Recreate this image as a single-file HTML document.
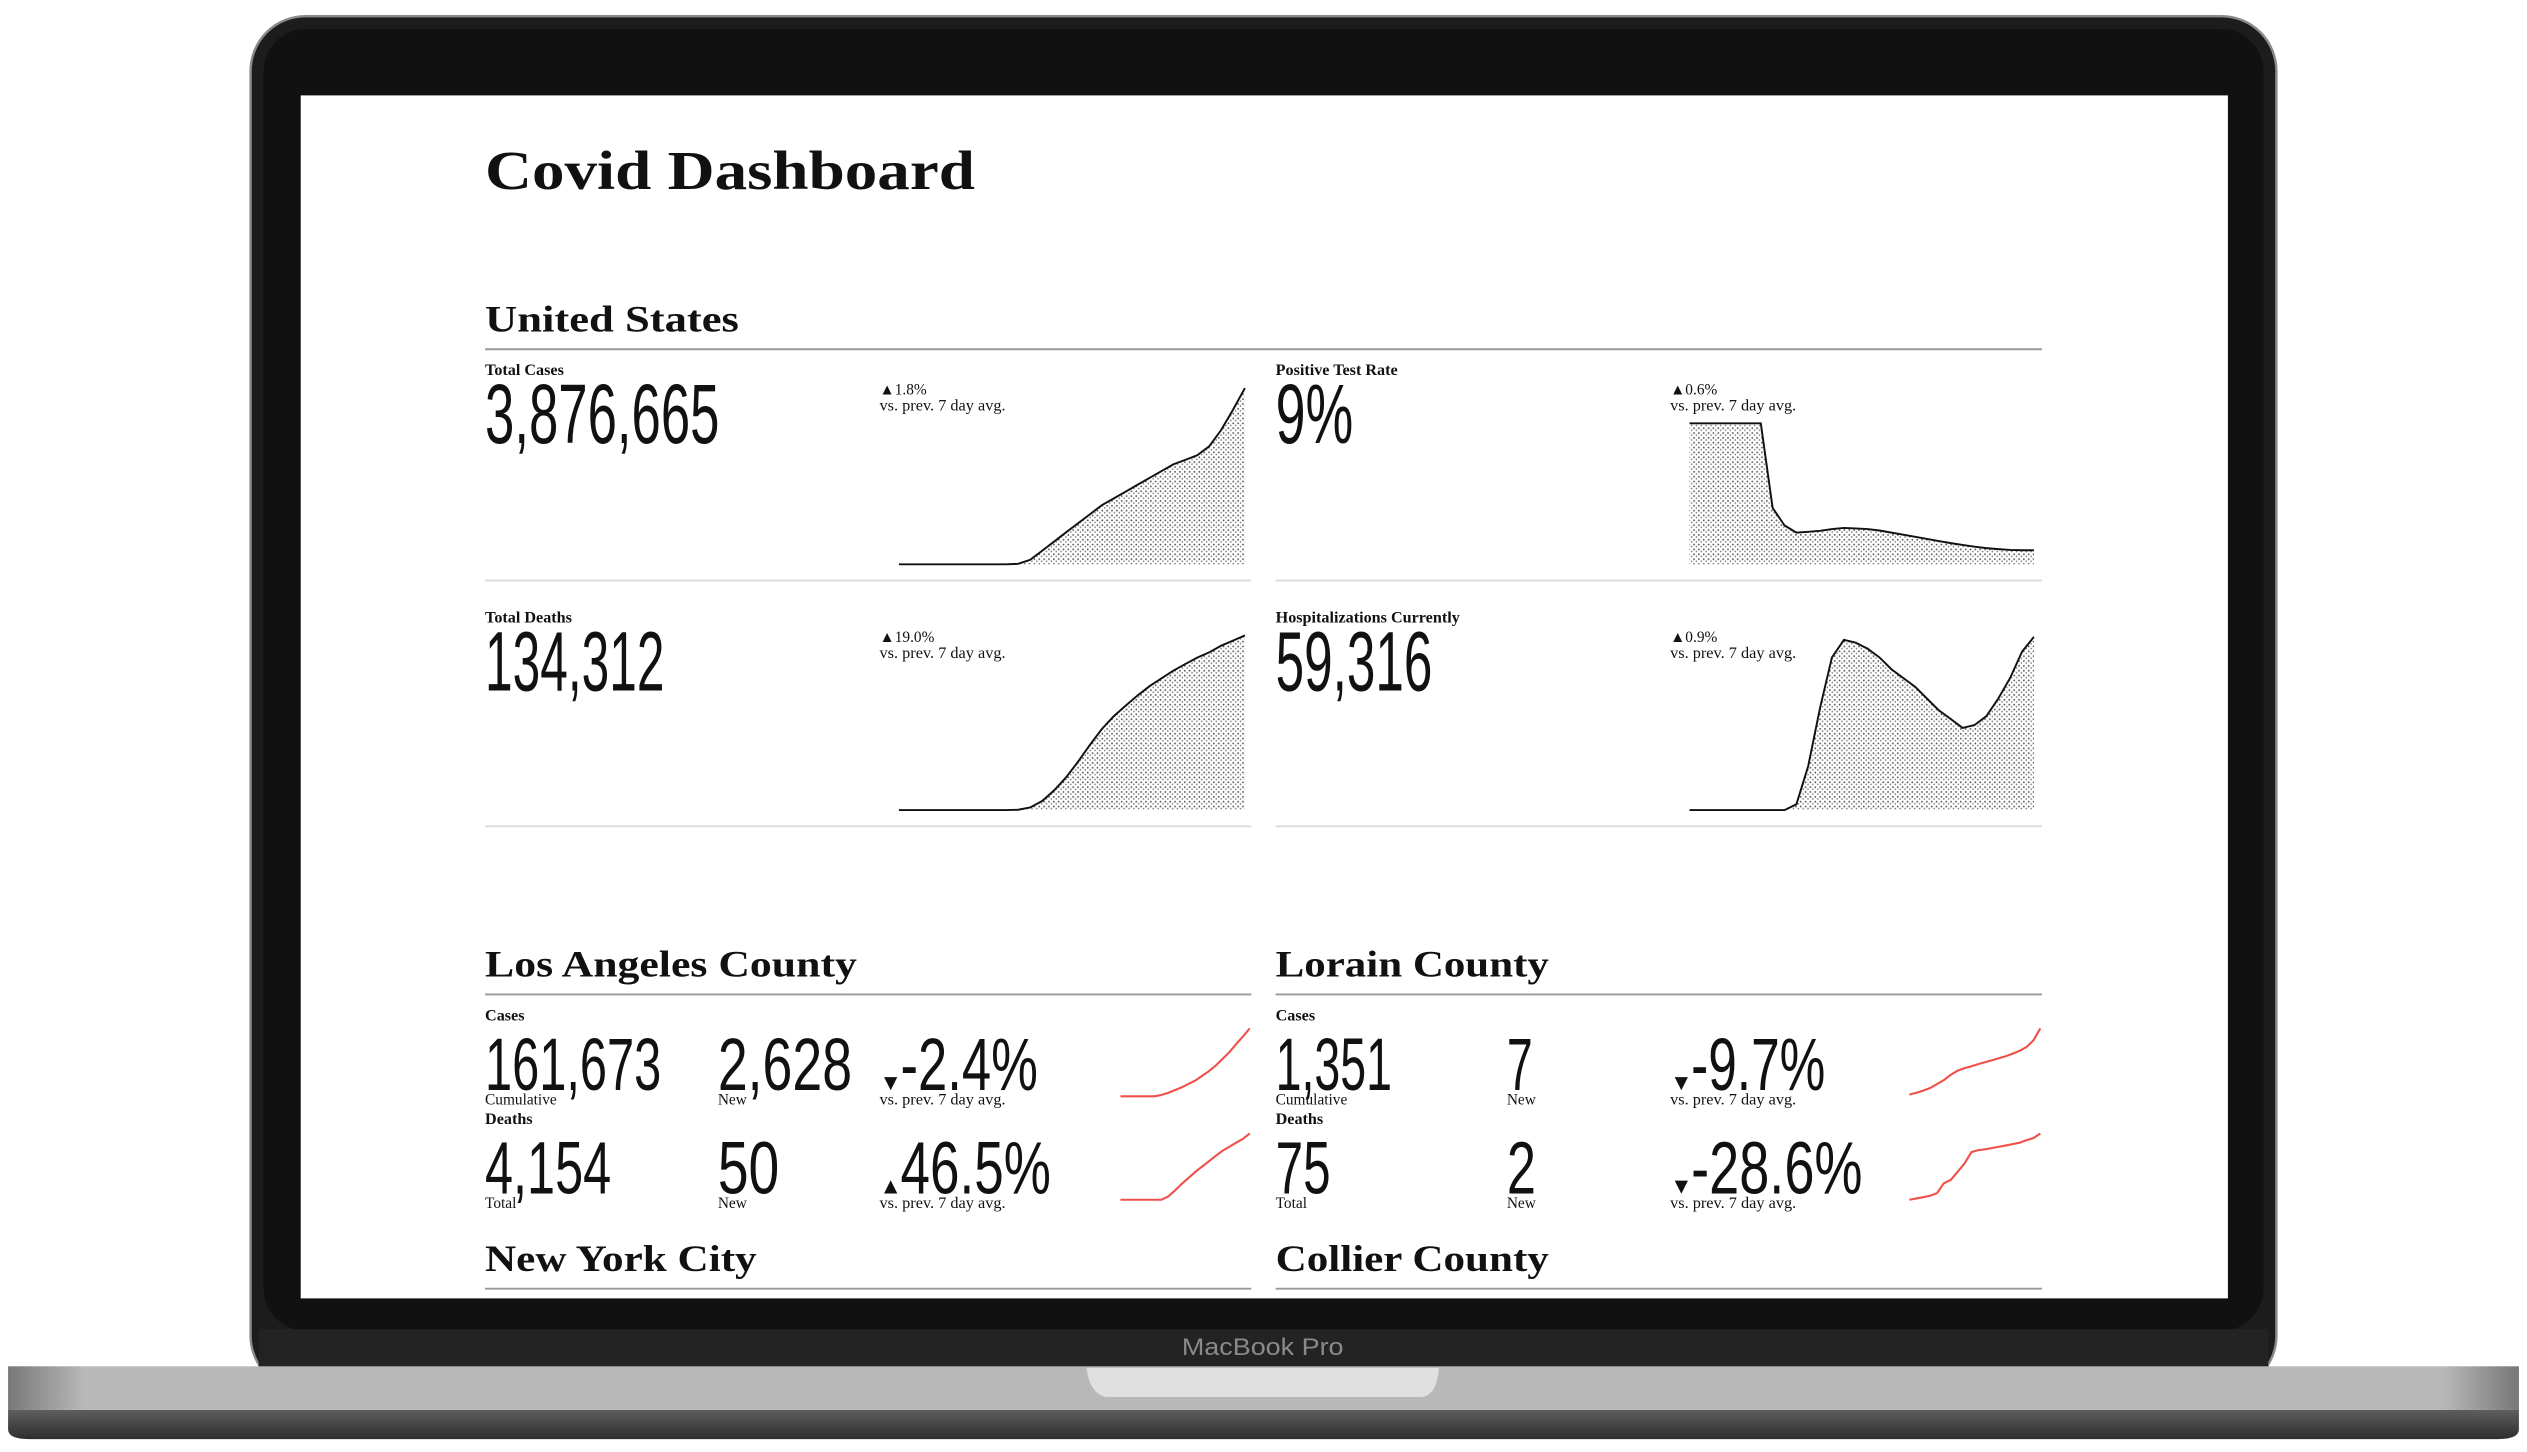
<!DOCTYPE html>
<html><head><meta charset="utf-8"><style>
html,body{margin:0;padding:0;background:#fff;width:2527px;height:1452px;overflow:hidden}
svg{display:block}
.serif{font-family:"Liberation Serif",serif}
.sans{font-family:"Liberation Sans",sans-serif}
</style></head><body>
<svg id="root" width="2527" height="1452" viewBox="0 0 1563 898" preserveAspectRatio="none" xmlns="http://www.w3.org/2000/svg">
<defs>
<pattern id="stip" width="3" height="3" patternUnits="userSpaceOnUse">
<rect width="3" height="3" fill="#fff"/>
<circle cx="0.8" cy="0.8" r="0.55" fill="#555"/>
<circle cx="2.3" cy="2.1" r="0.5" fill="#777"/>
</pattern>
<linearGradient id="baseG" x1="0" y1="0" x2="0" y2="1">
<stop offset="0" stop-color="#5e5e5e"/><stop offset="1" stop-color="#2e2e2e"/>
</linearGradient>
<linearGradient id="baseH" x1="0" y1="0" x2="1" y2="0">
<stop offset="0" stop-color="#777"/><stop offset="0.03" stop-color="#b8b8b8"/><stop offset="0.97" stop-color="#b8b8b8"/><stop offset="1" stop-color="#777"/>
</linearGradient>
</defs>
<rect x="155" y="10" width="1253" height="850" rx="34" fill="#1c1c1c" stroke="#8a8a8a" stroke-width="1.5"/>
<rect x="163" y="18" width="1237" height="805" rx="26" fill="#111"/>
<rect x="160" y="822" width="1243" height="26" fill="#232323"/>
<text x="781" y="838" text-anchor="middle" class="sans" font-size="15" fill="#8a8a8a" textLength="100" lengthAdjust="spacingAndGlyphs">MacBook Pro</text>
<rect x="5" y="845" width="1553" height="27" fill="url(#baseH)"/>
<path d="M5 872 H1558 V884 Q1558 890 1545 890 H18 Q5 890 5 884 Z" fill="url(#baseG)"/>
<path d="M672 846 H890 Q889 862 880 864 H684 Q674 862 672 846 Z" fill="#e0e0e0"/>
<rect x="186" y="59" width="1192" height="744" fill="#fff"/>

<text x="300" y="117" class="serif" font-weight="bold" font-size="34" fill="#111" textLength="303" lengthAdjust="spacingAndGlyphs">Covid Dashboard</text>

<text x="300" y="205" class="serif" font-weight="bold" font-size="23" fill="#111" textLength="157" lengthAdjust="spacingAndGlyphs">United States</text>
<line x1="300" y1="216" x2="1263" y2="216" stroke="#999" stroke-width="1.2"/>

<g id="usblock"></g>

<line x1="300" y1="359" x2="774" y2="359" stroke="#ddd" stroke-width="1.2"/>
<line x1="789" y1="359" x2="1263" y2="359" stroke="#ddd" stroke-width="1.2"/>
<line x1="300" y1="511" x2="774" y2="511" stroke="#ddd" stroke-width="1.2"/>
<line x1="789" y1="511" x2="1263" y2="511" stroke="#ddd" stroke-width="1.2"/>

<g id="counties"></g>

<text x="300" y="786" class="serif" font-weight="bold" font-size="23" fill="#111" textLength="168" lengthAdjust="spacingAndGlyphs">New York City</text>
<line x1="300" y1="797" x2="774" y2="797" stroke="#999" stroke-width="1.2"/>
<text x="789" y="786" class="serif" font-weight="bold" font-size="23" fill="#111" textLength="169" lengthAdjust="spacingAndGlyphs">Collier County</text>
<line x1="789" y1="797" x2="1263" y2="797" stroke="#999" stroke-width="1.2"/>
</svg>
<script>
const usCases = [0,0,0,0,0,0,0,0,0,0,0.01,0.1,0.3,0.5,0.7,0.9,1.1,1.3,1.45,1.6,1.75,1.9,2.05,2.2,2.3,2.4,2.6,2.95,3.4,3.88];
const usDeaths = [0,0,0,0,0,0,0,0,0,0,0.2,2,7,15,25,37,50,62,72,80,88,95,101,107,112,117,121,126,130,134];
const usTestRate = [40,40,40,40,40,40,40,16,11,9,9.2,9.5,10,10.3,10.2,10,9.6,9,8.4,7.8,7.2,6.6,6,5.5,5,4.6,4.3,4.1,4,4];
const usHosp = [0,0,0,0,0,0,0,0,0,2,15,35,52,58,57,55,52,48,45,42,38,34,31,28,29,32,38,45,54,59];
const laCases = [0,0,0,0,0,0,0.02,0.05,0.09,0.13,0.18,0.23,0.3,0.37,0.45,0.55,0.65,0.77,0.88,1];
const laDeaths = [0,0,0,0,0,0,0,0.05,0.14,0.24,0.33,0.42,0.5,0.58,0.66,0.74,0.8,0.86,0.92,1];
const lorainCases = [0,0.03,0.06,0.1,0.16,0.22,0.3,0.36,0.4,0.43,0.46,0.49,0.52,0.55,0.58,0.62,0.66,0.72,0.82,1];
const lorainDeaths = [0,0.02,0.04,0.06,0.1,0.25,0.3,0.42,0.55,0.72,0.75,0.76,0.78,0.8,0.82,0.84,0.86,0.9,0.93,1];

const NS = "http://www.w3.org/2000/svg";
function mk(tag, attrs, parent){const e=document.createElementNS(NS,tag);for(const k in attrs)e.setAttribute(k,attrs[k]);parent.appendChild(e);return e;}
function txt(parent, s, x, y, size, cls, opts){const t=mk('text',{x:x,y:y,'font-size':size,'class':cls,fill:'#111'},parent);if(opts){for(const k in opts)t.setAttribute(k,opts[k]);}t.textContent=s;return t;}
function scaleX(n,x0,x1){return i=>x0+(x1-x0)*i/(n-1);}
function scaleY(max,y0,y1){return v=>y0-(y0-y1)*v/max;}

const us = document.getElementById('usblock');
function areaChart(vals, max, x0, x1, yb, yt, name){
  const sx=scaleX(vals.length,x0,x1), sy=scaleY(max,yb,yt);
  let line='';vals.forEach((v,i)=>{line+=(i?'L':'M')+sx(i).toFixed(1)+' '+sy(v).toFixed(1)+' ';});
  const area=line+'L'+x1+' '+yb+' L'+x0+' '+yb+' Z';
  const a=mk('path',{d:area,fill:'url(#stip)'},us);
  
  
  const l=mk('path',{d:line,fill:'none',stroke:'#111','stroke-width':1.2},us);
  
  
}
function usMetric(label, value, vw, pct, x, y, name){
  const a=txt(us,label,x,y+4,10,'serif',{'font-weight':'bold'});
  
  
  const b=txt(us,value,x,y+46,52,'sans',{textLength:vw,lengthAdjust:'spacingAndGlyphs'});
  
  
  const c=txt(us,'▲'+pct,x+244,y+16,9.5,'serif');
  
  
  const d=txt(us,'vs. prev. 7 day avg.',x+244,y+26,9.5,'serif',{textLength:78,lengthAdjust:'spacingAndGlyphs'});
  
  
}
usMetric('Total Cases','3,876,665',145,'1.8%',300,228,'total-cases');
usMetric('Positive Test Rate','9%',48,'0.6%',789,228,'positive-test-rate');
usMetric('Total Deaths','134,312',111,'19.0%',300,381,'total-deaths');
usMetric('Hospitalizations Currently','59,316',97,'0.9%',789,381,'hospitalizations');
areaChart(usCases,3.88,556,770,349,240,'total-cases-chart');
areaChart(usTestRate,50,1045,1258,349,240,'test-rate-chart');
areaChart(usDeaths,134,556,770,501,393,'total-deaths-chart');
areaChart(usHosp,59.5,1045,1258,501,393,'hospitalizations-chart');

const ct=document.getElementById('counties');
function spark(vals,x0,x1,yb,yt,name){
  const sx=scaleX(vals.length,x0,x1), sy=scaleY(1,yb,yt);
  let d='';vals.forEach((v,i)=>{d+=(i?'L':'M')+sx(i).toFixed(1)+' '+sy(v).toFixed(1)+' ';});
  const p=mk('path',{d:d,fill:'none',stroke:'#f0504a','stroke-width':1.3},ct);
  
  
}
function county(title,tw,x,c,name){
  const h=txt(ct,title,x,604,23,'serif',{'font-weight':'bold',textLength:tw,lengthAdjust:'spacingAndGlyphs'});
  
  
  mk('line',{x1:x,y1:615,x2:x+474,y2:615,stroke:'#999','stroke-width':1.2},ct);
  const rows=[[c.c,'Cases','Cumulative',0],[c.d,'Deaths','Total',64]];
  rows.forEach(r=>{
    const v=r[0], dy=r[3];
    const l=txt(ct,r[1],x,631+dy,10,'serif',{'font-weight':'bold'});
    
    
    const a=txt(ct,v[0],x,674+dy,46,'sans',{textLength:v[1],lengthAdjust:'spacingAndGlyphs'});
    
    
    txt(ct,r[2],x,683+dy,9.5,'serif');
    const b=txt(ct,v[2],x+c.nx,674+dy,46,'sans',{textLength:v[3],lengthAdjust:'spacingAndGlyphs'});
    
    
    txt(ct,'New',x+c.nx,683+dy,9.5,'serif');
    txt(ct,v[4],x+244,674+dy,14,'serif');
    const p=txt(ct,v[5],x+257,674+dy,46,'sans',{textLength:v[6],lengthAdjust:'spacingAndGlyphs'});
    
    
    txt(ct,'vs. prev. 7 day avg.',x+244,683+dy,9.5,'serif',{textLength:78,lengthAdjust:'spacingAndGlyphs'});
  });
}
county('Los Angeles County',230,300,{nx:144,
  c:['161,673',109,'2,628',83,'▼','-2.4%',85],
  d:['4,154',78,'50',38,'▲','46.5%',93]},'los-angeles');
county('Lorain County',169,789,{nx:143,
  c:['1,351',72,'7',16,'▼','-9.7%',83],
  d:['75',34,'2',18,'▼','-28.6%',106]},'lorain');
spark(laCases,693,773,678,636,'la-cases-sparkline');
spark(laDeaths,693,773,742,701,'la-deaths-sparkline');
spark(lorainCases,1181,1262,677,636,'lorain-cases-sparkline');
spark(lorainDeaths,1181,1262,742,701,'lorain-deaths-sparkline');
</script>
</body></html>
